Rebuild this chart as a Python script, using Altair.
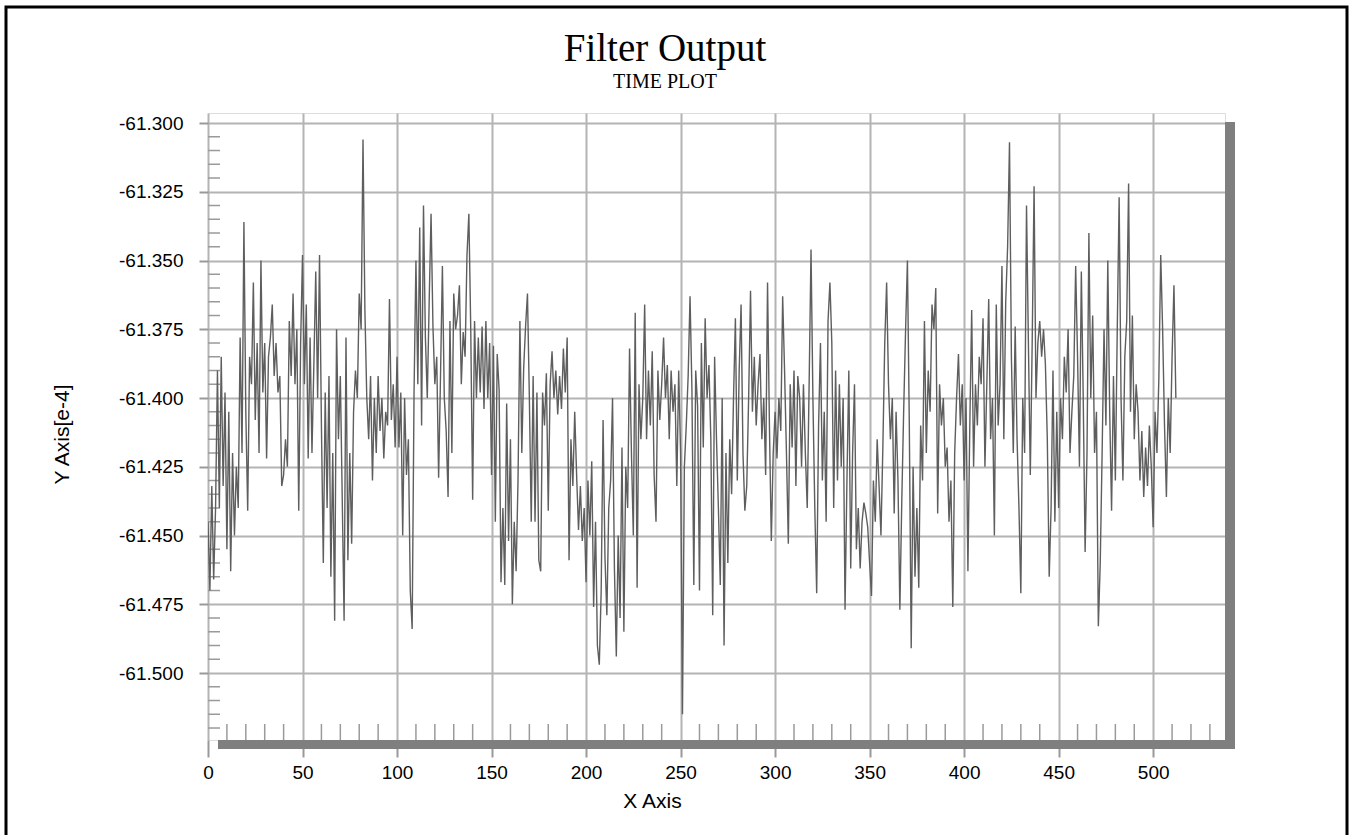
import altair as alt
import pandas as pd

# Filter output samples (units of e-4), index 0..512
y_000_088 = [
    -61.445, -61.470, -61.432, -61.466, -61.440, -61.390, -61.440, -61.385, -61.432, -61.398,
    -61.455, -61.405, -61.463, -61.420, -61.450, -61.425, -61.440, -61.378, -61.420, -61.336,
    -61.405, -61.441, -61.385, -61.395, -61.358, -61.408, -61.380, -61.420, -61.350, -61.398,
    -61.380, -61.422, -61.385, -61.378, -61.366, -61.392, -61.380, -61.398, -61.392, -61.432,
    -61.428, -61.415, -61.425, -61.372, -61.392, -61.362, -61.395, -61.375, -61.441, -61.380,
    -61.348, -61.395, -61.366, -61.422, -61.378, -61.420, -61.388, -61.354, -61.400, -61.348,
    -61.410, -61.460, -61.398, -61.440, -61.392, -61.465, -61.420, -61.481, -61.375, -61.415,
    -61.392, -61.436, -61.481, -61.378, -61.459, -61.420, -61.453, -61.405, -61.390, -61.400,
    -61.362, -61.375, -61.306, -61.368, -61.400, -61.415, -61.392, -61.430, -61.400,
]
y_089_175 = [
    -61.420, -61.392, -61.412, -61.400, -61.422, -61.405, -61.410, -61.364, -61.408, -61.395,
    -61.418, -61.385, -61.418, -61.398, -61.450, -61.400, -61.428, -61.415, -61.470, -61.484,
    -61.398, -61.350, -61.395, -61.338, -61.410, -61.330, -61.378, -61.400, -61.365, -61.333,
    -61.374, -61.395, -61.385, -61.429, -61.392, -61.352, -61.400, -61.412, -61.436, -61.372,
    -61.420, -61.362, -61.375, -61.370, -61.359, -61.395, -61.376, -61.385, -61.348, -61.333,
    -61.375, -61.437, -61.372, -61.400, -61.378, -61.398, -61.374, -61.404, -61.372, -61.400,
    -61.380, -61.428, -61.381, -61.445, -61.384, -61.397, -61.467, -61.440, -61.468, -61.402,
    -61.452, -61.415, -61.475, -61.445, -61.463, -61.430, -61.372, -61.420, -61.389, -61.374,
    -61.362, -61.400, -61.445, -61.392, -61.445, -61.398, -61.459,
]
y_176_262 = [
    -61.463, -61.398, -61.410, -61.391, -61.441, -61.395, -61.383, -61.400, -61.390, -61.406,
    -61.392, -61.404, -61.382, -61.398, -61.378, -61.459, -61.415, -61.432, -61.405, -61.428,
    -61.448, -61.432, -61.452, -61.440, -61.467, -61.430, -61.450, -61.423, -61.476, -61.445,
    -61.490, -61.497, -61.470, -61.408, -61.458, -61.479, -61.440, -61.430, -61.400, -61.462,
    -61.494, -61.450, -61.480, -61.418, -61.485, -61.425, -61.440, -61.382, -61.420, -61.450,
    -61.369, -61.469, -61.395, -61.415, -61.400, -61.366, -61.415, -61.390, -61.410, -61.383,
    -61.428, -61.445, -61.390, -61.408, -61.395, -61.378, -61.400, -61.388, -61.415, -61.390,
    -61.405, -61.395, -61.432, -61.390, -61.420, -61.515, -61.425, -61.410, -61.392, -61.363,
    -61.397, -61.468, -61.390, -61.403, -61.470, -61.380, -61.418,
]
y_263_350 = [
    -61.371, -61.400, -61.388, -61.415, -61.479, -61.385, -61.415, -61.440, -61.468, -61.400,
    -61.490, -61.420, -61.460, -61.415, -61.435, -61.400, -61.371, -61.430, -61.390, -61.366,
    -61.420, -61.441, -61.432, -61.400, -61.361, -61.405, -61.385, -61.410, -61.395, -61.384,
    -61.415, -61.400, -61.428, -61.358, -61.410, -61.452, -61.420, -61.405, -61.422, -61.400,
    -61.412, -61.363, -61.390, -61.420, -61.453, -61.395, -61.418, -61.390, -61.432, -61.392,
    -61.400, -61.425, -61.395, -61.420, -61.440, -61.395, -61.346, -61.400, -61.440, -61.471,
    -61.410, -61.380, -61.430, -61.405, -61.445, -61.372, -61.358, -61.380, -61.440, -61.390,
    -61.430, -61.395, -61.425, -61.400, -61.477, -61.430, -61.390, -61.462, -61.420, -61.395,
    -61.455, -61.440, -61.462, -61.445, -61.438, -61.442, -61.447, -61.460,
]
y_351_437 = [
    -61.472, -61.430, -61.445, -61.415, -61.432, -61.450, -61.418, -61.380, -61.358, -61.395,
    -61.415, -61.400, -61.442, -61.405, -61.430, -61.477, -61.438, -61.405, -61.376, -61.350,
    -61.410, -61.491, -61.425, -61.465, -61.440, -61.469, -61.410, -61.430, -61.372, -61.420,
    -61.390, -61.405, -61.366, -61.375, -61.360, -61.442, -61.395, -61.410, -61.400, -61.425,
    -61.418, -61.445, -61.430, -61.476, -61.420, -61.400, -61.384, -61.410, -61.395, -61.430,
    -61.400, -61.463, -61.410, -61.368, -61.425, -61.395, -61.410, -61.385, -61.395, -61.371,
    -61.425, -61.395, -61.364, -61.415, -61.400, -61.450, -61.366, -61.410, -61.395, -61.352,
    -61.415, -61.365, -61.345, -61.307, -61.385, -61.420, -61.374, -61.415, -61.440, -61.471,
    -61.400, -61.420, -61.330, -61.380, -61.428, -61.380, -61.323,
]
y_438_512 = [
    -61.400, -61.380, -61.372, -61.385, -61.375, -61.388, -61.415, -61.465, -61.440, -61.390,
    -61.445, -61.405, -61.440, -61.400, -61.415, -61.385, -61.398, -61.375, -61.420, -61.405,
    -61.392, -61.352, -61.385, -61.425, -61.354, -61.400, -61.456, -61.420, -61.340, -61.400,
    -61.370, -61.420, -61.405, -61.483, -61.460, -61.420, -61.375, -61.410, -61.350, -61.405,
    -61.441, -61.392, -61.430, -61.375, -61.327, -61.400, -61.430, -61.385, -61.372, -61.322,
    -61.405, -61.370, -61.415, -61.395, -61.405, -61.430, -61.412, -61.436, -61.418, -61.432,
    -61.410, -61.425, -61.447, -61.405, -61.420, -61.393, -61.348, -61.375, -61.410, -61.436,
    -61.400, -61.420, -61.385, -61.359, -61.400,
]

values = y_000_088 + y_089_175 + y_176_262 + y_263_350 + y_351_437 + y_438_512
samples = list(range(len(values)))

x_major = [0, 50, 100, 150, 200, 250, 300, 350, 400, 450, 500]
x_minor = [v for v in range(10, 540, 10) if v % 50 != 0]
y_major = [-61.500, -61.475, -61.450, -61.425, -61.400, -61.375, -61.350, -61.325, -61.300]
y_minor = [round(-61.520 + 0.005 * i, 3) for i in range(44) if i % 5 != 4]

title_text = "Filter Output"
subtitle_text = "TIME PLOT"

W, H = 1017, 627

df = pd.DataFrame({"x": samples, "y": values})
xm = pd.DataFrame({"x": x_minor})
ym = pd.DataFrame({"y": y_minor})
deco = alt.Data(values=[{"k": 0}])

x_scale = alt.Scale(domain=[0, 538], nice=False, zero=False)
y_scale = alt.Scale(domain=[-61.52436, -61.29636], nice=False, zero=False)

FONT = "Liberation Sans"
x_axis = alt.Axis(
    values=x_major, title="X Axis", grid=True, gridColor="#b4b4b4", gridWidth=2,
    domain=False, tickSize=17, tickColor="#999999", tickWidth=2,
    labelFont=FONT, labelFontSize=19, labelColor="black", labelPadding=6,
    labelFlush=False, labelOverlap=False,
    titleFont=FONT, titleFontSize=21, titleFontWeight="normal", titleColor="black",
    titleX=444, titleY=50,
)
y_axis = alt.Axis(
    values=y_major, title="Y Axis[e-4]", grid=True, gridColor="#b4b4b4", gridWidth=2,
    domain=False, tickSize=9, tickColor="#999999", tickWidth=2,
    labelExpr="'-' + format(abs(datum.value), '.3f')",
    labelFont=FONT, labelFontSize=19, labelColor="black", labelPadding=16,
    labelFlush=False, labelOverlap=False,
    titleFont=FONT, titleFontSize=21, titleFontWeight="normal", titleColor="black",
    titleX=-136, titleY=321,
)

X = alt.X("x:Q", scale=x_scale, axis=x_axis)
Y = alt.Y("y:Q", scale=y_scale, axis=y_axis)

minor_x = alt.Chart(xm).mark_rule(color="#9a9a9a", strokeWidth=1.5).encode(
    x=X, y=alt.value(H - 16), y2=alt.value(H)
)
minor_y = alt.Chart(ym).mark_rule(color="#9a9a9a", strokeWidth=1.5).encode(
    y=Y, x=alt.value(0), x2=alt.value(12)
)
line = alt.Chart(df).mark_line(color="#5e5e5e", strokeWidth=1.4, clip=True).encode(x=X, y=Y)

shadow_r = alt.Chart(deco).mark_rect(color="#7f7f7f", clip=False).encode(
    x=alt.value(W), x2=alt.value(W + 10), y=alt.value(9), y2=alt.value(H + 9)
)
shadow_b = alt.Chart(deco).mark_rect(color="#7f7f7f", clip=False).encode(
    x=alt.value(10), x2=alt.value(W + 10), y=alt.value(H), y2=alt.value(H + 9)
)
frame = alt.Chart(deco).mark_rect(filled=False, stroke="black", strokeWidth=3, clip=False).encode(
    x=alt.value(-202), x2=alt.value(1139), y=alt.value(-106), y2=alt.value(H + 140)
)
title = alt.Chart(deco).mark_text(
    text=title_text, font="Liberation Serif", fontSize=39, color="black",
    align="center", baseline="alphabetic", clip=False,
).encode(x=alt.value(457), y=alt.value(-52))
subtitle = alt.Chart(deco).mark_text(
    text=subtitle_text, font="Liberation Serif", fontSize=20, color="black",
    align="center", baseline="alphabetic", clip=False,
).encode(x=alt.value(457), y=alt.value(-25))

chart = alt.layer(minor_x, minor_y, line, shadow_r, shadow_b, frame, title, subtitle).properties(
    width=W, height=H,
    autosize=alt.AutoSizeParams(type="none"),
    padding={"left": 208, "top": 113, "right": 128, "bottom": 95},
).configure_view(stroke="#c4c4c4", strokeWidth=2, fill="white").configure(background="white")

chart.save("out.html", embed_options={"renderer": "svg", "actions": False})
